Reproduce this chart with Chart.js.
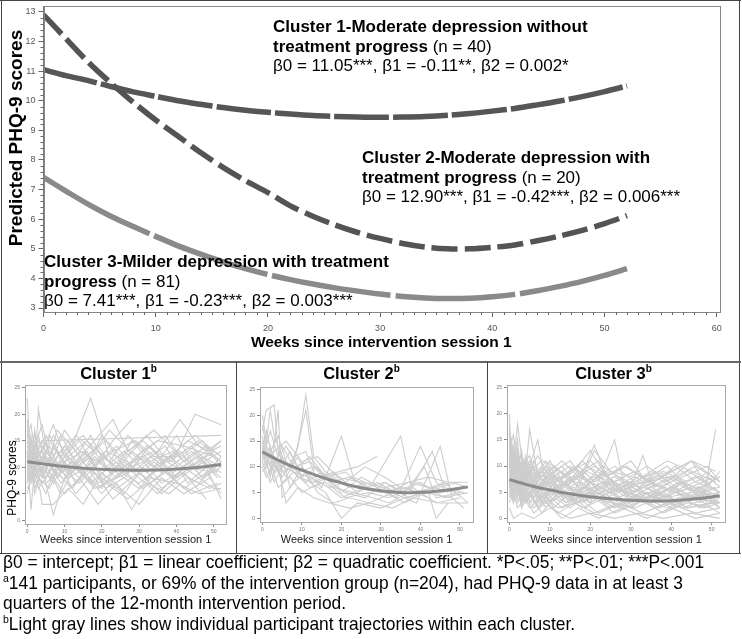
<!DOCTYPE html>
<html>
<head>
<meta charset="utf-8">
<script src="https://cdn.jsdelivr.net/npm/chart.js@4.4.0/dist/chart.umd.min.js"></script>
<style>
body { margin: 0; background: #fff; font-family: "Liberation Sans", Arial, sans-serif; }
#fig { position: relative; width: 742px; height: 639px; overflow: hidden; }
canvas { position: absolute; }
.line { position: absolute; background: #444; }
.lab { position: absolute; font-size: 17px; line-height: 19.5px; color: #000; white-space: nowrap; }
.ptitle { position: absolute; top: 362px; font-size: 16.5px; font-weight: bold; text-align: center; line-height: 22px; }
.ptitle sup { font-size: 10px; line-height: 0; vertical-align: 7px; }
.ylab { position: absolute; white-space: nowrap; transform: translate(-50%, -50%) rotate(-90deg); }
#notes { position: absolute; left: 3px; top: 552px; font-size: 19px; line-height: 20.7px; white-space: nowrap; transform: scaleX(0.915); transform-origin: 0 0; }
#notes sup { font-size: 11.5px; line-height: 0; vertical-align: 7px; }
</style>
</head>
<body>
<div id="fig">
  <canvas id="topChart" width="742" height="362" style="left:0;top:0"></canvas>
  <canvas id="c1Chart" width="233" height="170" style="left:2px;top:382px"></canvas>
  <canvas id="c2Chart" width="249" height="170" style="left:237px;top:382px"></canvas>
  <canvas id="c3Chart" width="251" height="170" style="left:488px;top:382px"></canvas>

  <div class="ylab" style="left:16px;top:138px;font-size:19px;font-weight:bold">Predicted PHQ-9 scores</div>
  <div class="lab" style="left:273px;top:17px"><b>Cluster 1-Moderate depression without<br>treatment progress</b> (n = 40)<br>β0 = 11.05***, β1 = -0.11**, β2 = 0.002*</div>
  <div class="lab" style="left:362px;top:148px"><b>Cluster 2-Moderate depression with<br>treatment progress</b> (n = 20)<br>β0 = 12.90***, β1 = -0.42***, β2 = 0.006***</div>
  <div class="lab" style="left:44px;top:252px"><b>Cluster 3-Milder depression with treatment<br>progress</b> (n = 81)<br>β0 = 7.41***, β1 = -0.23***, β2 = 0.003***</div>

  <div class="ptitle" style="left:2px;width:233px">Cluster 1<sup>b</sup></div>
  <div class="ptitle" style="left:237px;width:249px">Cluster 2<sup>b</sup></div>
  <div class="ptitle" style="left:488px;width:251px">Cluster 3<sup>b</sup></div>
  <div class="ylab" style="left:12px;top:478px;font-size:12px">PHQ-9 scores</div>

  <!-- frame lines -->
  <div class="line" style="left:0;top:0;width:741px;height:1px"></div>
  <div class="line" style="left:1px;top:0;width:1px;height:554px"></div>
  <div class="line" style="left:739px;top:0;width:1px;height:554px"></div>
  <div class="line" style="left:0;top:361px;width:741px;height:2px;background:#666"></div>
  <div class="line" style="left:236px;top:362px;width:1px;height:192px"></div>
  <div class="line" style="left:487px;top:362px;width:1px;height:192px"></div>
  <div class="line" style="left:0;top:553px;width:741px;height:1px"></div>

  <div id="notes">β0 = intercept; β1 = linear coefficient; β2 = quadratic coefficient. *P&lt;.05; **P&lt;.01; ***P&lt;.001<br><sup>a</sup>141 participants, or 69% of the intervention group (n=204), had PHQ-9 data in at least 3<br>quarters of the 12-month intervention period.<br><sup>b</sup>Light gray lines show individual participant trajectories within each cluster.</div>
</div>

<script>
// predicted curves
const fitWeeks = [0, 2, 4, 6, 8, 10, 12, 14, 16, 18, 20, 22, 24, 26, 28, 30, 32, 34, 36, 38, 40, 42, 44, 46, 48, 50, 52];
const cluster1Fit = [11.05, 10.85, 10.68, 10.48, 10.3, 10.15, 10.0, 9.88, 9.77, 9.68, 9.61, 9.55, 9.5, 9.47, 9.45, 9.44, 9.45, 9.47, 9.51, 9.57, 9.65, 9.74, 9.86, 9.99, 10.14, 10.31, 10.5];
const cluster2Fit = [12.9, 12.1, 11.3, 10.6, 9.95, 9.35, 8.8, 8.25, 7.75, 7.3, 6.9, 6.45, 6.1, 5.8, 5.55, 5.35, 5.18, 5.06, 5.0, 5.0, 5.05, 5.13, 5.27, 5.43, 5.62, 5.85, 6.12];
const cluster3Fit = [7.41, 6.95, 6.5, 6.1, 5.75, 5.42, 5.1, 4.82, 4.56, 4.33, 4.13, 3.96, 3.81, 3.68, 3.57, 3.47, 3.39, 3.34, 3.32, 3.33, 3.38, 3.46, 3.58, 3.73, 3.9, 4.1, 4.33];

const topXTicks = [0, 10, 20, 30, 40, 50, 60];
const topYTicks = [3, 4, 5, 6, 7, 8, 9, 10, 11, 12, 13];
const subXTicks = [0, 10, 20, 30, 40, 50];
const subYTicks = [0, 5, 10, 15, 20, 25];

// individual trajectories, [week, PHQ-9]
const c1Paths = [
  [[0,12],[1,16],[2,9],[3,21],[5,12],[8,10],[12,14],[17,23],[22,12],[27,9],[33,14],[40,8],[46,11],[52,15]],
  [[0,9],[1,7],[2,13],[4,8],[6,11],[9,7],[13,10],[18,6],[24,8],[30,12],[36,7],[43,10],[50,9]],
  [[0,15],[1,11],[2,17],[3,12],[5,15],[7,9],[10,13],[15,16],[21,10],[26,13],[32,9],[38,12],[45,16],[52,12]],
  [[0,16],[2,5],[4,10],[7,1],[10,8],[14,12],[19,7],[25,10],[31,6],[37,9],[44,5],[51,7]],
  [[0,23],[1,10],[2,14],[4,18],[6,12],[9,16],[13,11],[18,15],[23,19],[27,13],[34,17],[41,12],[47,15],[52,10]],
  [[0,13],[1,2],[2,10],[4,8],[7,14],[11,9],[16,13],[20,8],[26,5],[31,10],[36,6],[42,9],[48,4]],
  [[4,15],[52,16]],
  [[0,11],[2,13],[5,9],[8,17],[12,14],[17,9],[23,15],[28,19]],
  [[0,7],[1,12],[3,8],[6,6],[9,11],[14,8],[20,12],[26,9],[32,14],[39,11],[45,20],[52,18]],
  [[0,18],[1,14],[3,11],[5,13],[9,10],[14,7],[19,11],[24,8],[30,10],[35,13],[41,19],[46,14],[52,11]],
  [[0,10],[1,8],[2,12],[4,3],[7,3],[11,6],[15,3],[20,9],[25,6],[30,3],[36,8],[42,5],[49,8]],
  [[0,14],[2,12],[5,16],[9,12],[13,16],[18,13],[22,17],[29,12],[35,15],[42,14],[50,12]],
  [[0,8],[1,10],[3,6],[6,9],[10,5],[14,8],[19,3],[24,7],[28,2],[33,8],[40,7],[46,5],[52,6]],
  [[0,12],[2,9],[4,14],[7,11],[11,8],[16,10],[21,13],[27,11],[33,7],[38,10],[44,13],[51,9]],
  [[0,17],[1,13],[3,15],[6,10],[10,14],[15,9],[20,16],[25,12],[31,15],[37,11],[43,15],[49,13],[52,14]],
  [[0,6],[2,9],[4,7],[8,11],[13,5],[18,9],[24,6],[30,9],[36,5],[41,8],[47,11],[52,9]],
  [[0,11],[1,15],[3,10],[5,12],[8,8],[12,11],[17,7],[22,10],[28,13],[34,10],[40,16],[45,10],[52,13]],
  [[0,9],[2,11],[5,8],[9,13],[14,10],[20,5],[25,9],[31,11],[37,14],[43,7],[48,10],[52,4]],
  [[0,19],[1,12],[2,15],[4,11],[7,16],[11,12],[16,15],[22,11],[27,16],[33,12],[39,9],[46,12],[52,15]],
  [[0,10],[1,9],[3,13],[6,8],[10,11],[15,13],[21,8],[26,11],[32,8],[38,12],[44,9],[50,6],[52,6]],
  [[0,13],[2,7],[4,12],[8,9],[12,6],[17,10],[23,4],[29,8],[34,11],[40,8],[47,12],[52,10]],
  [[0,14],[1,11],[3,16],[5,10],[8,13],[12,9],[16,12],[21,15],[26,10],[31,13],[37,16],[42,11],[48,14],[52,12]],
  [[0,7],[1,9],[2,6],[4,10],[7,7],[11,12],[15,9],[20,6],[25,11],[30,8],[35,5],[41,9],[46,7],[52,11]],
  [[0,12],[2,16],[4,11],[6,14],[9,9],[13,12],[17,16],[22,9],[27,12],[32,16],[38,11],[44,14],[50,10]],
  [[0,10],[1,13],[2,8],[4,12],[6,9],[9,5],[12,9],[17,12],[21,6],[26,8],[31,12],[36,9],[42,12],[47,8],[52,12]],
  [[0,16],[1,18],[2,13],[4,15],[7,12],[10,17],[14,13],[19,11],[24,14],[29,9],[35,12],[40,10],[45,13],[51,8]],
  [[0,5],[1,8],[3,11],[5,7],[8,9],[12,6],[16,10],[21,7],[27,4],[32,7],[38,5],[43,8],[49,6],[52,7]],
  [[0,13],[1,10],[2,12],[5,8],[8,12],[11,15],[15,11],[19,13],[24,10],[28,15],[33,11],[39,13],[44,10],[50,13]],
  [[0,9],[2,14],[4,9],[6,16],[9,12],[13,7],[18,12],[23,9],[28,11],[34,13],[39,8],[45,12],[52,8]],
  [[0,11],[1,12],[3,8],[5,5],[7,9],[10,12],[14,9],[19,6],[25,9],[30,7],[36,10],[42,6],[48,9],[52,5]],
  [[0,15],[2,11],[4,13],[7,18],[10,12],[14,15],[18,10],[23,13],[29,15],[34,12],[40,12],[46,15],[52,11]],
  [[0,8],[1,12],[3,9],[6,12],[9,9],[14,11],[19,14],[24,9],[30,6],[35,10],[41,13],[47,8],[52,10]]
];
const c2Paths = [
  [[0,20],[1,15],[2,21],[3,16],[5,12],[7,10],[9,14],[11,24],[13,12],[16,9],[20,7],[25,6],[30,5],[36,6],[42,4]],
  [[0,17],[1,21],[3,22],[4,13],[6,9],[8,11],[11,21],[13,10],[17,8],[22,6],[28,7],[35,16],[38,5],[44,6],[50,7]],
  [[0,15],[1,11],[2,8],[4,21],[5,4],[8,7],[11,9],[15,6],[20,16],[23,8],[29,6],[34,4],[40,14],[44,7],[47,5]],
  [[0,12],[1,14],[3,9],[5,12],[7,6],[10,10],[14,5],[18,3],[22,4],[27,3],[33,5],[39,3],[45,14],[48,4]],
  [[0,14],[2,10],[4,11],[6,8],[9,12],[12,7],[16,5],[20,0],[24,3],[30,2],[36,4],[42,5],[44,0],[47,3]],
  [[0,10],[2,12],[4,9],[7,13],[10,8],[14,10],[18,6],[23,5],[28,4],[32,3],[37,5],[43,13],[46,6],[51,5]],
  [[0,13],[1,17],[3,10],[5,8],[8,12],[11,13],[14,7],[19,9],[24,10],[29,12]],
  [[0,11],[2,7],[4,10],[6,3],[9,6],[13,4],[17,3],[22,2],[27,3],[33,2],[38,4],[45,3],[52,3]],
  [[0,16],[1,12],[3,13],[6,15],[10,11],[14,12],[19,8],[25,7],[31,6],[37,7],[42,6],[48,7],[52,6]],
  [[0,9],[2,11],[4,6],[7,8],[10,5],[15,7],[20,4],[26,6],[31,5],[36,3],[41,5],[48,4],[51,2]],
  [[0,14],[1,13],[3,7],[5,10],[8,9],[12,8],[17,6],[21,7],[26,10],[31,8],[35,6],[40,5],[46,7],[52,3]],
  [[0,12],[2,9],[5,14],[8,10],[12,11],[16,8],[21,5],[26,4],[31,7],[36,5],[41,10],[44,4],[50,5]],
  [[0,13],[1,10],[2,14],[4,9],[6,11],[9,8],[13,7],[18,9],[24,5],[29,7],[34,5],[39,7],[45,5],[51,6]],
  [[0,11],[1,13],[3,12],[5,9],[8,10],[11,7],[15,9],[20,5],[25,8],[30,6],[35,5],[40,7],[46,4],[52,5]],
  [[0,18],[1,14],[2,17],[4,12],[6,14],[9,10],[12,12],[16,8],[21,9],[26,6],[31,7],[37,4],[43,6],[49,5]],
  [[0,10],[1,8],[3,11],[5,7],[8,9],[12,6],[16,7],[21,4],[27,5],[32,4],[38,6],[44,3],[50,4]],
  [[0,15],[2,13],[4,16],[6,11],[9,9],[13,10],[17,7],[22,8],[27,6],[32,5],[37,7],[42,8],[47,7],[52,7]]
];
const c3Paths = [
  [[0,20],[0.5,9],[1,12],[1.5,6],[2,8],[3,5],[5,7],[8,4],[12,6],[17,3],[22,5],[28,2],[35,4],[42,3],[50,5]],
  [[0,18],[0.5,11],[1,7],[2,10],[3,6],[4,9],[6,5],[9,8],[13,4],[18,6],[24,3],[30,5],[37,2],[44,4],[52,3]],
  [[0,14],[1,10],[2,18],[3,12],[4,9],[5,17],[7,8],[10,11],[14,6],[19,9],[25,7],[31,5],[38,8],[45,11],[51,9]],
  [[0,10],[1,8],[2,12],[3,7],[5,10],[7,15],[9,6],[12,8],[16,5],[21,14],[25,6],[29,4],[34,7],[40,5],[47,6],[52,2]],
  [[0,12],[0.5,4],[1,9],[2,5],[3,8],[5,3],[8,6],[11,2],[15,5],[20,3],[26,15],[29,4],[33,12],[37,3],[43,6],[48,4],[51,17]],
  [[0,8],[1,5],[2,9],[3,4],[4,7],[6,3],[9,5],[13,2],[17,4],[22,1],[28,3],[34,5],[40,2],[46,4],[52,1]],
  [[0,15],[1,11],[2,9],[3,13],[4,8],[6,10],[8,7],[11,9],[15,11],[19,7],[23,10],[27,8],[32,6],[38,9],[44,7],[50,9]],
  [[0,6],[0.5,10],[1,4],[2,7],[3,3],[5,6],[7,2],[10,4],[14,7],[18,3],[23,5],[29,7],[35,3],[41,5],[47,2],[52,4]],
  [[0,11],[1,14],[2,8],[3,10],[5,12],[7,6],[10,9],[13,11],[17,8],[21,10],[26,7],[31,9],[36,6],[41,8],[46,10],[52,7]],
  [[0,9],[1,6],[2,11],[3,5],[4,8],[7,4],[10,7],[14,3],[19,6],[24,4],[30,6],[36,4],[42,7],[49,3]],
  [[0,17],[0.5,12],[1,8],[2,13],[3,6],[4,10],[6,7],[9,11],[12,5],[17,8],[22,6],[27,4],[33,6],[39,4],[45,5],[52,8]],
  [[0,7],[1,3],[2,6],[3,2],[5,5],[8,1],[11,4],[15,2],[20,5],[26,2],[32,4],[38,1],[44,3],[50,2]],
  [[0,13],[1,9],[2,11],[3,8],[5,9],[7,12],[10,8],[13,10],[17,6],[21,13],[25,9],[30,8],[34,10],[39,7],[45,11],[49,6],[52,9]],
  [[0,5],[1,8],[2,4],[3,7],[5,4],[7,6],[10,3],[14,5],[19,2],[24,6],[29,3],[35,5],[41,3],[47,6],[52,4]],
  [[0,16],[1,10],[2,7],[4,11],[6,6],[8,9],[11,5],[15,8],[19,4],[24,7],[29,5],[34,3],[40,6],[46,4],[51,6]],
  [[0,10],[1,12],[2,6],[3,9],[4,5],[6,8],[9,4],[13,6],[18,9],[22,11],[26,6],[31,8],[37,5],[43,7],[48,5]],
  [[0,12],[1,7],[2,10],[3,4],[5,8],[7,5],[10,9],[14,6],[18,4],[23,7],[28,5],[33,7],[39,10],[44,6],[50,4],[52,3]],
  [[0,4],[1,6],[2,3],[3,5],[5,2],[8,4],[12,1],[16,3],[21,1],[27,3],[33,1],[39,3],[46,1],[52,2]],
  [[0,9],[1,11],[2,5],[4,8],[6,4],[9,7],[13,9],[17,6],[21,8],[26,5],[31,7],[36,9],[41,6],[46,8],[52,5]],
  [[0,14],[1,8],[2,12],[3,9],[4,11],[6,7],[9,10],[12,7],[16,9],[20,13],[24,8],[28,6],[32,8],[38,6],[44,9],[49,7]],
  [[0,8],[1,4],[2,7],[3,3],[4,6],[7,2],[10,5],[14,3],[19,5],[25,3],[31,2],[37,4],[43,2],[49,4],[52,2]],
  [[0,11],[1,9],[2,15],[3,7],[5,11],[7,8],[10,6],[13,8],[17,10],[21,7],[26,9],[30,11],[34,7],[40,9],[45,11],[52,7]],
  [[0,6],[1,9],[2,5],[3,8],[5,6],[8,3],[11,7],[15,4],[20,7],[25,5],[30,2],[36,5],[42,3],[48,5],[52,3]],
  [[0,12],[1,10],[3,12],[5,9],[8,11],[11,10],[15,7],[19,10],[24,8],[29,10],[34,7],[40,8],[45,6],[51,8]],
  [[0,3],[1,5],[2,2],[4,4],[6,1],[9,3],[13,0],[17,2],[22,0],[28,2],[34,0],[40,2],[46,0],[52,1]],
  [[0,9],[0.5,13],[1,7],[1.5,11],[2,6],[3,9],[4,5],[6,7],[9,3],[13,5],[18,2],[24,4],[30,3],[37,5],[44,2],[51,3]],
  [[0,11],[0.5,7],[1,10],[1.5,5],[2,9],[3,4],[5,8],[7,3],[10,6],[15,4],[21,6],[27,3],[33,5],[40,3],[47,5],[52,4]],
  [[0,7],[0.5,12],[1,9],[2,13],[3,8],[4,11],[6,9],[8,6],[11,8],[15,10],[20,7],[25,9],[30,6],[36,8],[42,5],[48,7]],
  [[0,15],[0.5,10],[1,13],[2,9],[3,11],[4,7],[5,10],[7,6],[10,8],[13,5],[17,7],[22,4],[27,6],[32,4],[38,6],[45,4],[52,5]],
  [[0,5],[1,3],[2,6],[3,2],[4,5],[6,2],[9,4],[12,2],[17,3],[22,5],[27,2],[33,4],[39,2],[45,4],[52,3]],
  [[0,13],[1,16],[2,10],[3,12],[4,9],[6,11],[8,8],[11,10],[14,8],[18,11],[22,8],[26,10],[31,7],[37,9],[43,6],[49,8],[52,6]],
  [[0,8],[0.5,6],[1,11],[2,8],[3,10],[5,6],[7,9],[10,5],[13,7],[17,5],[22,8],[27,5],[32,7],[38,4],[43,7],[48,5],[52,6]],
  [[0,10],[1,6],[2,8],[3,11],[4,6],[5,9],[7,5],[10,7],[14,4],[19,6],[23,9],[28,5],[33,3],[38,6],[44,4],[50,6]],
  [[0,6],[1,4],[2,8],[3,5],[4,3],[6,6],[9,2],[12,5],[16,3],[21,4],[26,1],[32,3],[38,5],[44,2],[50,3],[52,2]],
  [[0,12],[0.5,9],[1,6],[2,10],[3,7],[4,12],[6,8],[8,10],[11,7],[15,9],[20,11],[24,8],[28,10],[33,8],[39,11],[45,9],[51,7]],
  [[0,4],[1,7],[2,5],[3,8],[4,4],[6,6],[8,3],[11,6],[15,3],[20,5],[25,2],[31,4],[36,2],[42,4],[48,2],[52,3]],
  [[0,16],[0.5,11],[1,9],[2,12],[3,8],[4,10],[6,6],[9,9],[12,7],[16,10],[21,6],[26,8],[31,5],[36,7],[41,10],[46,7],[52,5]],
  [[0,9],[1,7],[2,10],[3,6],[5,9],[7,7],[10,10],[13,6],[17,9],[21,5],[25,7],[30,4],[35,6],[40,8],[46,5],[52,8]],
  [[0,7],[1,9],[2,4],[3,6],[4,3],[6,5],[9,7],[12,4],[16,6],[20,3],[25,5],[30,7],[35,4],[41,6],[47,3],[52,5]],
  [[0,11],[0.5,15],[1,12],[2,9],[3,11],[4,8],[5,6],[8,9],[12,6],[16,8],[21,5],[26,7],[31,9],[37,6],[43,8],[49,10],[52,7]],
  [[0,2],[1,0],[3,1],[6,0],[10,2],[15,0],[20,1],[26,0],[32,1],[38,0],[45,1],[52,0]]
];

Chart.defaults.font.family = '"Liberation Sans", Arial, sans-serif';
Chart.defaults.color = '#555';

function toXY(xs, ys) { return xs.map((x, i) => ({ x: x, y: ys[i] })); }
function setTicks(vals) { return function(scale) { scale.ticks = vals.map(v => ({ value: v })); }; }
function fixWidth(w) { return function(scale) { scale.width = w; scale.paddingTop = 0; scale.paddingBottom = 0; }; }
function fixHeight(h) { return function(scale) { scale.height = h; scale.paddingLeft = 0; scale.paddingRight = 0; }; }

// plot frame + minor tick marks
const framePlugin = {
  id: 'frame',
  afterDraw(chart, args, opts) {
    const ctx = chart.ctx, a = chart.chartArea;
    ctx.save();
    ctx.strokeStyle = opts.color;
    ctx.lineWidth = 1;
    ctx.strokeRect(Math.round(a.left) + 0.5, Math.round(a.top) + 0.5, Math.round(a.right - a.left), Math.round(a.bottom - a.top));
    if (opts.xMinor) {
      const xs = chart.scales.x;
      ctx.strokeStyle = '#666';
      ctx.beginPath();
      opts.xMinor.forEach(v => {
        const px = Math.round(xs.getPixelForValue(v)) + 0.5;
        ctx.moveTo(px, a.bottom); ctx.lineTo(px, a.bottom + 3);
      });
      const ys = chart.scales.y;
      opts.yMinor.forEach(v => {
        const py = Math.round(ys.getPixelForValue(v)) + 0.5;
        ctx.moveTo(a.left, py); ctx.lineTo(a.left - 3, py);
      });
      ctx.stroke();
    }
    ctx.restore();
  }
};

const xMinor = [];
for (let w = 1; w < 60; w++) if (w % 10) xMinor.push(w);
const yMinor = [];
for (let v = 3; v < 13; v++) for (let k = 1; k < 5; k++) yMinor.push(v + k * 0.2);

function fitDataset(ys, color, dash) {
  return {
    data: toXY(fitWeeks, ys),
    borderColor: color,
    borderWidth: 5.5,
    borderDash: dash,
    borderCapStyle: 'butt',
    pointRadius: 0,
    tension: 0.3,
    fill: false
  };
}

new Chart(document.getElementById('topChart'), {
  type: 'line',
  data: {
    datasets: [
      fitDataset(cluster1Fit, '#565656', [55, 4]),
      fitDataset(cluster2Fit, '#545454', [26, 7]),
      fitDataset(cluster3Fit, '#8a8a8a', [120, 5])
    ]
  },
  options: {
    responsive: false,
    animation: false,
    layout: { padding: { left: 0, top: 6, right: 23, bottom: 0 } },
    plugins: { legend: { display: false }, tooltip: { enabled: false }, frame: { color: '#888', xMinor: xMinor, yMinor: yMinor } },
    scales: {
      x: {
        type: 'linear', min: 0, max: 60.2,
        afterBuildTicks: setTicks(topXTicks),
        afterFit: fixHeight(50),
        grid: { drawOnChartArea: false, tickLength: 5, tickColor: '#666' },
        border: { color: '#777' },
        ticks: { font: { size: 9 }, padding: 6, color: '#555' },
        title: { display: true, text: 'Weeks since intervention session 1', color: '#000', font: { size: 15.5, weight: 'bold' }, padding: { top: 0, bottom: 9.5 } }
      },
      y: {
        type: 'linear', min: 2.865, max: 13.2,
        afterBuildTicks: setTicks(topYTicks),
        afterFit: fixWidth(43.5),
        grid: { drawOnChartArea: false, tickLength: 5, tickColor: '#666' },
        border: { color: '#777' },
        ticks: { font: { size: 9 }, padding: 3, color: '#555' }
      }
    }
  },
  plugins: [framePlugin]
});

function panel(id, paths, fit, yWidth, padRight, padTop, xHeight) {
  const datasets = [{
    data: toXY(fitWeeks, fit),
    borderColor: '#8c8c8c',
    borderWidth: 3,
    pointRadius: 0,
    tension: 0.3
  }];
  paths.forEach(p => datasets.push({
    data: p.map(d => ({ x: d[0], y: d[1] })),
    borderColor: '#cdcdcd',
    borderWidth: 1.1,
    pointRadius: 0,
    tension: 0
  }));
  new Chart(document.getElementById(id), {
    type: 'line',
    data: { datasets: datasets },
    options: {
      responsive: false,
      animation: false,
      layout: { padding: { left: 0, top: padTop, right: padRight, bottom: 0 } },
      plugins: { legend: { display: false }, tooltip: { enabled: false }, frame: { color: '#aaa' } },
      scales: {
        x: {
          type: 'linear', min: -0.6, max: 53.3,
          afterBuildTicks: setTicks(subXTicks),
          afterFit: fixHeight(xHeight),
          grid: { drawOnChartArea: false, tickLength: 3, tickColor: '#888' },
          border: { color: '#aaa' },
          ticks: { font: { size: 5 }, padding: 2, color: '#777' },
          title: { display: true, text: 'Weeks since intervention session 1', color: '#222', font: { size: 11 }, padding: { top: 0, bottom: 5 } }
        },
        y: {
          type: 'linear', min: -0.7, max: 25.5,
          afterBuildTicks: setTicks(subYTicks),
          afterFit: fixWidth(yWidth),
          grid: { drawOnChartArea: false, tickLength: 3, tickColor: '#888' },
          border: { color: '#aaa' },
          ticks: { font: { size: 5 }, padding: 2, color: '#777' }
        }
      }
    },
    plugins: [framePlugin]
  });
}

panel('c1Chart', c1Paths, cluster1Fit, 23, 9, 3, 28);
panel('c2Chart', c2Paths, cluster2Fit, 23, 13, 5, 30);
panel('c3Chart', c3Paths, cluster3Fit, 19, 14, 3, 30);
</script>
</body>
</html>
